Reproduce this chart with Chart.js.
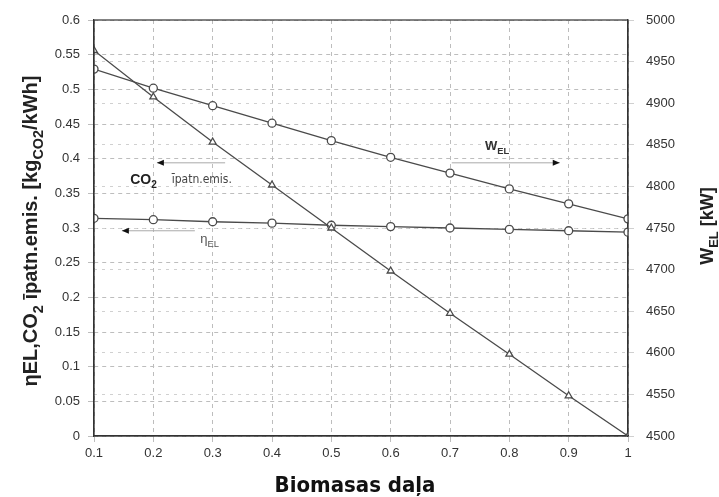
<!DOCTYPE html>
<html>
<head>
<meta charset="utf-8">
<script src="https://cdn.jsdelivr.net/npm/chart.js@4/dist/chart.umd.min.js"></script>
<style>
  html, body { margin: 0; padding: 0; background: #fff; }
  #wrap { width: 719px; height: 497px; position: relative; }
</style>
</head>
<body>
<div id="wrap"><canvas id="chart"></canvas></div>
<script>
const biomassShare = [0.1, 0.2, 0.3, 0.4, 0.5, 0.6, 0.7, 0.8, 0.9, 1.0];
const co2Emission = [0.556, 0.489, 0.424, 0.362, 0.300, 0.238, 0.177, 0.118, 0.058, 0.0];
const etaEl = [0.314, 0.312, 0.309, 0.307, 0.304, 0.302, 0.300, 0.298, 0.296, 0.294];
const wEl = [4941, 4918, 4897, 4876, 4855, 4835, 4816, 4797, 4779, 4761];

const xTickLabels = ["0.1", "0.2", "0.3", "0.4", "0.5", "0.6", "0.7", "0.8", "0.9", "1"];
const leftTickLabels = ["0", "0.05", "0.1", "0.15", "0.2", "0.25", "0.3", "0.35", "0.4", "0.45", "0.5", "0.55", "0.6"];
const rightTickLabels = ["4500", "4550", "4600", "4650", "4700", "4750", "4800", "4850", "4900", "4950", "5000"];

const lineColor = "#4a4a4a";
const tickFont = { family: "'Liberation Sans', Arial, sans-serif", size: 13 };

const pts = (ys) => biomassShare.map((x, i) => ({ x: x, y: ys[i] }));

// draws text with subscript parts, e.g. [["W"], ["EL", true], [" [kW]"]]
function richText(ctx, parts, x, y, size, bold, align, family) {
  family = family || "'Liberation Sans', Arial, sans-serif";
  const f = (s) => (bold ? "bold " : "") + s + "px " + family;
  let total = 0;
  parts.forEach(p => { ctx.font = f(p[1] ? size * 0.72 : size); total += ctx.measureText(p[0]).width; });
  let cx = align === "center" ? x - total / 2 : x;
  ctx.textBaseline = "alphabetic";
  ctx.textAlign = "left";
  parts.forEach(p => {
    ctx.font = f(p[1] ? size * 0.72 : size);
    ctx.fillText(p[0], cx, p[1] ? y + size * 0.3 : y);
    cx += ctx.measureText(p[0]).width;
  });
}

function arrow(ctx, x1, x2, y) {
  ctx.save();
  ctx.strokeStyle = "#aaa";
  ctx.lineWidth = 1;
  ctx.beginPath();
  ctx.moveTo(x1, y);
  ctx.lineTo(x2, y);
  ctx.stroke();
  const d = x2 > x1 ? -1 : 1;
  ctx.fillStyle = "#111";
  ctx.beginPath();
  ctx.moveTo(x2, y);
  ctx.lineTo(x2 + d * 7, y - 3);
  ctx.lineTo(x2 + d * 7, y + 3);
  ctx.closePath();
  ctx.fill();
  ctx.restore();
}

const extras = {
  id: "extras",
  afterDraw(chart) {
    const { ctx, chartArea: a, scales } = chart;
    const sx = scales.x, sy = scales.y;
    const X = (v) => sx.getPixelForValue(v), Y = (v) => sy.getPixelForValue(v);
    ctx.save();
    // frame
    ctx.strokeStyle = "#333";
    ctx.lineWidth = 1.2;
    ctx.strokeRect(a.left, a.top, a.right - a.left, a.bottom - a.top);

    // annotations
    arrow(ctx, X(0.321), X(0.206), Y(0.394));
    ctx.fillStyle = "#222";
    richText(ctx, [["CO"], ["2", true]], X(0.161), Y(0.3635), 14, true, "left");
    ctx.fillStyle = "#444";
    richText(ctx, [["īpatn.emis."]], X(0.231), Y(0.365), 12, false, "left", "'Liberation Sans Narrow', 'DejaVu Sans Condensed', sans-serif");

    arrow(ctx, X(0.27), X(0.147), Y(0.296));
    ctx.fillStyle = "#555";
    richText(ctx, [["η"], ["EL", true]], X(0.279), Y(0.278), 13, false, "left");

    arrow(ctx, X(0.703), X(0.885), Y(0.394));
    ctx.fillStyle = "#333";
    richText(ctx, [["W"], ["EL", true]], X(0.759), Y(0.4125), 13, true, "left");

    // axis titles
    ctx.fillStyle = "#222";
    ctx.save();
    ctx.translate(37, 231);
    ctx.rotate(-Math.PI / 2);
    richText(ctx, [["ηEL,CO"], ["2", true], [" īpatn.emis. [kg"], ["CO2", true], ["/kWh]"]], 0, 0, 20, true, "center");
    ctx.restore();

    ctx.save();
    ctx.translate(713, 226);
    ctx.rotate(-Math.PI / 2);
    richText(ctx, [["W"], ["EL", true], [" [kW]"]], 0, 0, 18, true, "center");
    ctx.restore();

    ctx.font = "bold 22px 'Liberation Sans Narrow', 'DejaVu Sans Condensed', sans-serif";
    ctx.textAlign = "center";
    ctx.textBaseline = "middle";
    ctx.fillStyle = "#111";
    ctx.fillText("Biomasas daļa", 355, 486);
    ctx.restore();
  }
};

const dashGrid = { color: "#bdbdbd", lineWidth: 1, drawTicks: true, tickLength: 6 };

const seriesStyle = {
  borderColor: lineColor,
  borderWidth: 1.3,
  pointRadius: 4,
  pointBackgroundColor: "#fff",
  pointBorderColor: lineColor,
  pointBorderWidth: 1.3,
  tension: 0,
};

new Chart(document.getElementById("chart"), {
  type: "line",
  data: {
    datasets: [
      Object.assign({ label: "CO2 īpatn.emis.", data: pts(co2Emission), yAxisID: "y", pointStyle: "triangle" }, seriesStyle),
      Object.assign({ label: "ηEL", data: pts(etaEl), yAxisID: "y", pointStyle: "circle" }, seriesStyle),
      Object.assign({ label: "WEL", data: pts(wEl), yAxisID: "y1", pointStyle: "circle" }, seriesStyle),
    ],
  },
  options: {
    responsive: true,
    maintainAspectRatio: false,
    animation: false,
    layout: { padding: { top: 20, left: 0, right: 0, bottom: 0 } },
    plugins: { legend: { display: false }, tooltip: { enabled: false } },
    scales: {
      x: {
        type: "linear",
        min: 0.1,
        max: 1,
        afterFit: (s) => { s.height = 61; },
        ticks: {
          stepSize: 0.1,
          color: "#333",
          font: tickFont,
          padding: 4,
          maxRotation: 0,
          callback: (v, i) => xTickLabels[i],
        },
        grid: dashGrid,
        border: { display: true, color: "#333", width: 1.2, dash: [4, 4] },
      },
      y: {
        position: "left",
        min: 0,
        max: 0.6,
        afterFit: (s) => { s.width = 94; },
        ticks: {
          stepSize: 0.05,
          color: "#333",
          font: tickFont,
          padding: 8,
          callback: (v, i) => leftTickLabels[i],
        },
        grid: dashGrid,
        border: { display: true, color: "#333", width: 1.2, dash: [4, 4] },
      },
      y1: {
        position: "right",
        min: 4500,
        max: 5000,
        afterFit: (s) => { s.width = 91; },
        ticks: {
          stepSize: 50,
          color: "#333",
          font: tickFont,
          padding: 12,
          callback: (v, i) => rightTickLabels[i],
        },
        grid: { color: "#d0d0d0", lineWidth: 1, drawTicks: true, tickLength: 6 },
        border: { display: true, color: "#333", width: 1.2, dash: [3, 5] },
      },
    },
  },
  plugins: [extras],
});
</script>
</body>
</html>
